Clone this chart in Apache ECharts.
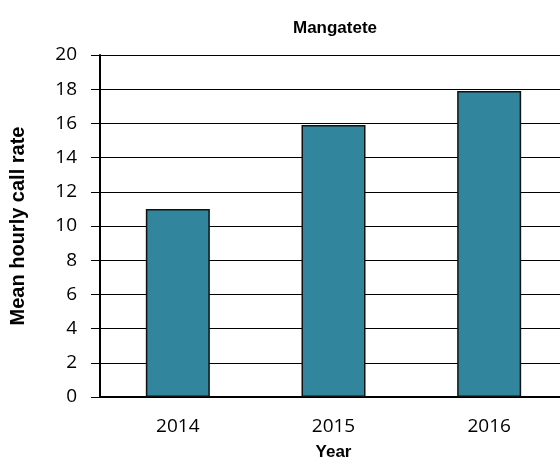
<!DOCTYPE html>
<html>
<head>
<meta charset="utf-8">
<script src="https://cdn.jsdelivr.net/npm/echarts@6/dist/echarts.min.js"></script>
<style>
  html, body { margin: 0; padding: 0; background: #fff; }
  #chart { width: 560px; height: 468px; }
</style>
</head>
<body>
<div id="chart"></div>
<script>
// data
const years = ['2014', '2015', '2016'];
const callRates = [11.0, 15.9, 17.9];

const chart = echarts.init(document.getElementById('chart'));

chart.setOption({
  animation: false,
  title: {
    text: 'Mangatete',
    left: 330,
    top: 15,
    textAlign: 'center',
    textStyle: { fontFamily: 'Liberation Sans', fontSize: 17, fontWeight: 'bold', color: '#000' }
  },
  // plot runs past the right edge, like the original
  grid: { left: 100, top: 55, width: 467, height: 342, outerBoundsMode: 'none' },
  xAxis: {
    type: 'category',
    data: years,
    name: 'Year',
    nameLocation: 'middle',
    nameGap: 47,
    nameTextStyle: { fontFamily: 'Liberation Sans', fontSize: 17, fontWeight: 'bold', color: '#000' },
    axisLine: { lineStyle: { color: '#000', width: 2 } },
    axisTick: { length: 7, lineStyle: { color: '#000', width: 2 } },
    axisLabel: { fontFamily: 'Open Sans', fontSize: 19, color: '#000', margin: 20 }
  },
  yAxis: {
    type: 'value',
    min: 0,
    max: 20,
    interval: 2,
    name: 'Mean hourly call rate',
    nameLocation: 'middle',
    nameGap: 72,
    nameTextStyle: { fontFamily: 'Liberation Sans', fontSize: 20, fontWeight: 'bold', color: '#000' },
    axisLine: { show: true, lineStyle: { color: '#000', width: 2 } },
    axisTick: { show: true, length: 9, lineStyle: { color: '#000', width: 1 } },
    axisLabel: { fontFamily: 'Open Sans', fontSize: 19, color: '#000', margin: 23 },
    splitLine: { lineStyle: { color: '#000', width: 1 } }
  },
  series: [{
    type: 'bar',
    data: callRates,
    barWidth: 64,
    itemStyle: { color: '#31859C', borderColor: '#111', borderWidth: 1.5 }
  }]
});
</script>
</body>
</html>
